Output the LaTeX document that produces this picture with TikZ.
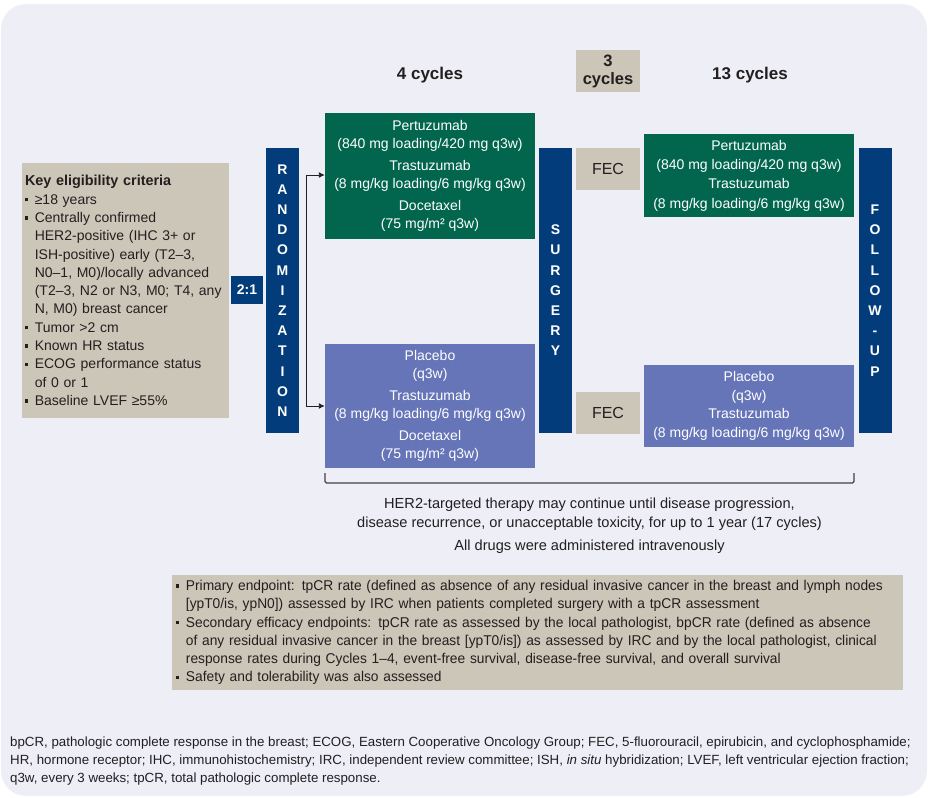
\documentclass[tikz,border=0pt]{standalone}
\usepackage{fontspec}
\setmainfont{Liberation Sans}
\newfontfamily\narrowfont{Liberation Sans}[FakeStretch=0.97]
\usetikzlibrary{arrows.meta}
\definecolor{panel}{HTML}{EEEEF7}
\definecolor{navy}{HTML}{023C7A}
\definecolor{pine}{HTML}{02664F}
\definecolor{lavender}{HTML}{6674B8}
\definecolor{sand}{HTML}{CCC6B8}
\definecolor{ink}{HTML}{231F20}
\newcommand\sqbul{\makebox[0.7em][l]{\rule[0.2em]{0.24em}{0.24em}}}
\newcommand\ind{\hspace*{0.7em}}
\tikzset{
  bar/.style      = {rectangle, fill=navy, text=white, minimum width=33pt, minimum height=285pt,
                     inner sep=0pt, align=center, font=\bfseries\fontsize{14}{20.2}\selectfont},
  armA/.style     = {rectangle, fill=pine, text=white, minimum width=210pt, inner sep=0pt,
                     align=center, font=\fontsize{14}{18.3}\selectfont},
  armB/.style     = {rectangle, fill=lavender, text=white, minimum width=210pt, inner sep=0pt,
                     align=center, font=\fontsize{14}{18.3}\selectfont},
  sandbox/.style  = {rectangle, fill=sand, text=ink, inner sep=0pt, align=center},
  head/.style     = {text=ink, font=\bfseries\fontsize{17}{18}\selectfont},
  flow/.style     = {-{Latex[length=6pt,width=6pt]}, line width=0.9pt, draw=ink},
  brace/.style    = {line width=1.1pt, draw=ink!85},
}
\begin{document}
\begin{tikzpicture}[x=1pt,y=-1pt]
  \useasboundingbox (0,0) rectangle (928,797);
  \fill[panel, rounded corners=25pt] (1,4) rectangle (927,796);

  \node[sandbox, minimum width=207pt, minimum height=255pt, text width=201pt, inner xsep=3pt,
        align=left, font=\fontsize{14}{18.3}\selectfont] (crit) at (125.5,290.5)
    {{\bfseries\fontsize{14.4}{18.3}\selectfont Key eligibility criteria}\\
     \sqbul ≥18 years\\
     \sqbul Centrally confirmed\\
     \ind HER2-positive (IHC 3+ or\\
     \ind ISH-positive) early (T2–3,\\
     \ind N0–1, M0)/locally advanced\\
     \ind (T2–3, N2 or N3, M0; T4, any\\
     \ind N, M0) breast cancer\\
     \sqbul Tumor >2 cm\\
     \sqbul Known HR status\\
     \sqbul ECOG performance status\\
     \ind of 0 or 1\\
     \sqbul Baseline LVEF ≥55\%};
  \node[rectangle, fill=navy, text=white, minimum width=32pt, minimum height=28pt, inner sep=0pt,
        font=\bfseries\fontsize{14}{16}\selectfont] (ratio) at (247,290) {2:1};
  \node[bar] (rand) at (282.5,290.5) {R\\A\\N\\D\\O\\M\\I\\Z\\A\\T\\I\\O\\N};

  \node[head] (cyc4) at (430,75) {4 cycles};
  \node[sandbox, minimum width=64pt, minimum height=42pt,
        font=\bfseries\fontsize{16.5}{18}\selectfont] (cyc3) at (608,71) {3\\cycles};
  \node[head] (cyc13) at (750,75) {13 cycles};

  \node[armA, minimum height=126pt] (armA1) at (430,176)
    {Pertuzumab\\(840 mg loading/420 mg q3w)\\[3.5pt]
     Trastuzumab\\(8 mg/kg loading/6 mg/kg q3w)\\[3.5pt]
     Docetaxel\\(75 mg/m² q3w)};
  \node[armB, minimum height=124pt] (armB1) at (430,406)
    {Placebo\\(q3w)\\[3.5pt]
     Trastuzumab\\(8 mg/kg loading/6 mg/kg q3w)\\[3.5pt]
     Docetaxel\\(75 mg/m² q3w)};

  \node[bar] (surg) at (555.5,290.5) {S\\U\\R\\G\\E\\R\\Y};
  \node[sandbox, minimum width=64pt, minimum height=42pt,
        font=\fontsize{16}{18}\selectfont] (fecA) at (608,169) {FEC};
  \node[sandbox, minimum width=64pt, minimum height=42pt,
        font=\fontsize{16}{18}\selectfont] (fecB) at (608,413) {FEC};

  \node[armA, minimum height=83pt, font=\fontsize{14}{19.3}\selectfont] (armA2) at (749,175.5)
    {Pertuzumab\\(840 mg loading/420 mg q3w)\\Trastuzumab\\(8 mg/kg loading/6 mg/kg q3w)};
  \node[armB, minimum height=82pt, font=\fontsize{14}{18.7}\selectfont] (armB2) at (749,406)
    {Placebo\\(q3w)\\Trastuzumab\\(8 mg/kg loading/6 mg/kg q3w)};

  \node[bar] (follow) at (875,290.5) {F\\O\\L\\L\\O\\W\\-\\U\\P};

  \coordinate (forkT) at (306,175);
  \coordinate (forkB) at (306,406);
  \draw[line width=0.9pt, draw=ink] (forkT) -- (forkB);
  \draw[flow] (forkT) -- (forkT -| armA1.west);
  \draw[flow] (forkB) -- (forkB -| armB1.west);

  \coordinate (braceL) at (325,473);
  \coordinate (braceR) at (854,473);
  \draw[brace, rounded corners=1.5pt] (braceL) -- ++(0,10) -| (braceR);

  \node[text=ink, align=center, font=\fontsize{14.6}{19}\selectfont] (note) at (589.5,526)
    {HER2-targeted therapy may continue until disease progression,\\
     disease recurrence, or unacceptable toxicity, for up to 1 year (17 cycles)\\[4pt]
     All drugs were administered intravenously};

  \node[sandbox, minimum width=731pt, minimum height=115pt, text width=723pt, inner xsep=4pt,
        align=left, font=\narrowfont\fontsize{14.2}{18.3}\selectfont] (ends) at (537.5,632.5)
    {\sqbul Primary endpoint: tpCR rate (defined as absence of any residual invasive cancer in the breast and lymph nodes\\
     \ind [ypT0/is, ypN0]) assessed by IRC when patients completed surgery with a tpCR assessment\\
     \sqbul Secondary efficacy endpoints: tpCR rate as assessed by the local pathologist, bpCR rate (defined as absence\\
     \ind of any residual invasive cancer in the breast [ypT0/is]) as assessed by IRC and by the local pathologist, clinical\\
     \ind response rates during Cycles 1–4, event-free survival, disease-free survival, and overall survival\\
     \sqbul Safety and tolerability was also assessed};

  \node[anchor=west, inner sep=0pt, text=ink, align=left,
        font=\fontsize{13.3}{18}\selectfont] (abbr) at (10,761)
    {bpCR, pathologic complete response in the breast; ECOG, Eastern Cooperative Oncology Group; FEC, 5-fluorouracil, epirubicin, and cyclophosphamide;\\
     HR, hormone receptor; IHC, immunohistochemistry; IRC, independent review committee; ISH, \textit{in situ} hybridization; LVEF, left ventricular ejection fraction;\\
     q3w, every 3 weeks; tpCR, total pathologic complete response.};
\end{tikzpicture}
\end{document}
